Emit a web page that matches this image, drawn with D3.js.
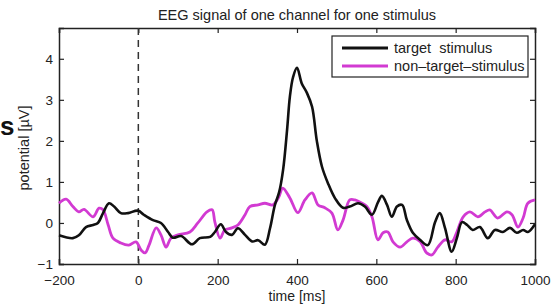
<!DOCTYPE html>
<html>
<head>
<meta charset="utf-8">
<script src="https://cdn.jsdelivr.net/npm/d3@7"></script>
<style>
  body { margin: 0; background: #fff; }
  svg { display: block; font-family: "Liberation Sans", Arial, sans-serif; }
</style>
</head>
<body>
<div id="chart"></div>
<script>
// Data
const targetTime = [-200, -165, -150, -132, -114, -102, -89, -74, -61, -44, -26, -1, 14, 37, 57, 75, 87, 108,
  135, 155, 181, 193, 208, 221, 236, 251, 269, 287, 302, 319, 332, 344, 355, 365, 375, 382, 390, 400,
  412, 425, 438, 450, 463, 478, 496, 516, 533, 554, 571, 589, 604, 614, 627, 639, 652, 665, 677, 692,
  710, 730, 748, 760, 773, 790, 803, 816, 829, 843, 861, 881, 899, 919, 937, 954, 970, 982, 1000];
const targetValue = [-0.3, -0.37, -0.3, -0.1, -0.05, 0, 0.24, 0.48, 0.4, 0.24, 0.24, 0.3, 0.2, 0.07, 0, -0.22, -0.36, -0.32,
  -0.52, -0.37, -0.34, -0.22, -0.03, -0.22, -0.29, -0.13, -0.29, -0.45, -0.42, -0.53, -0.13, 0.43, 0.75, 1.3, 2.27, 3.07, 3.55, 3.78,
  3.4, 3.17, 2.83, 2.0, 1.37, 0.97, 0.6, 0.37, 0.4, 0.48, 0.4, 0.2, 0.5, 0.66, 0.44, 0.15, 0.4, 0.44, 0.07, -0.24,
  -0.41, -0.54, 0.02, 0.24, -0.12, -0.7, -0.37, 0.02, -0.05, -0.17, -0.1, -0.37, -0.17, -0.22, -0.12, -0.24, -0.17, -0.22, -0.03];

const nonTargetTime = [-200, -182, -165, -150, -137, -114, -99, -89, -76, -64, -44, -24, -6, 7, 17, 27, 45, 57, 70, 82, 100,
  130, 150, 173, 186, 193, 206, 218, 236, 251, 269, 281, 302, 319, 339, 354, 364, 382, 402,
  420, 438, 453, 470, 488, 503, 516, 533, 546, 564, 576, 589, 604, 617, 629, 642, 660, 677, 692, 710,
  727, 740, 755, 773, 790, 803, 819, 836, 856, 874, 886, 906, 929, 942, 957, 970, 982, 1000];
const nonTargetValue = [0.48, 0.58, 0.4, 0.27, 0.33, 0.15, 0.36, 0.32, -0.05, -0.37, -0.49, -0.54, -0.46, -0.66, -0.73, -0.54, -0.12, -0.29, -0.59, -0.37, -0.29,
  -0.22, 0, 0.27, 0.32, 0.02, -0.37, -0.17, -0.12, -0.05, 0.2, 0.4, 0.44, 0.48, 0.44, 0.63, 0.85, 0.61, 0.25,
  0.56, 0.73, 0.44, 0.37, 0.24, -0.17, 0.07, 0.56, 0.56, 0.48, 0.4, 0.15, -0.41, -0.24, -0.22, -0.46, -0.59, -0.46, -0.37, -0.45,
  -0.73, -0.78, -0.59, -0.41, -0.46, -0.22, 0.15, 0.27, 0.15, 0.27, 0.32, 0.12, 0.27, 0.2, -0.1, 0.12, 0.48, 0.56];

const xTicks = [-200, 0, 200, 400, 600, 800, 1000];
const yTicks = [-1, 0, 1, 2, 3, 4];
const legendLabels = ["target  stimulus", "non\u2013target\u2013stimulus"];

const width = 555;
const height = 306;
const margin = { top: 28, right: 20, bottom: 42, left: 59 };

const svg = d3.select("#chart")
  .append("svg")
  .attr("width", width)
  .attr("height", height);

const x = d3.scaleLinear().domain([-200, 1000]).range([margin.left, width - margin.right]);
const y = d3.scaleLinear().domain([-1, 4.75]).range([height - margin.bottom, margin.top]);

const colors = ["#111111", "#d23ad2"];
const midX = (margin.left + width - margin.right) / 2;

// Title
svg.append("text")
  .attr("x", midX)
  .attr("y", 20)
  .attr("text-anchor", "middle")
  .attr("font-size", 14.5)
  .attr("fill", "#222")
  .text("EEG signal of one channel for one stimulus");

// Axes (ticks pointing inwards, mirrored on top/right)
const axisB = svg.append("g")
  .attr("transform", `translate(0,${height - margin.bottom})`)
  .call(d3.axisBottom(x).tickValues(xTicks).tickSize(-5).tickPadding(11).tickFormat(d3.format("d")));
const axisT = svg.append("g")
  .attr("transform", `translate(0,${margin.top})`)
  .call(d3.axisTop(x).tickValues(xTicks).tickSize(-5).tickFormat(""));
const axisL = svg.append("g")
  .attr("transform", `translate(${margin.left},0)`)
  .call(d3.axisLeft(y).tickValues(yTicks).tickSize(-5).tickPadding(6).tickFormat(d3.format("d")));
const axisR = svg.append("g")
  .attr("transform", `translate(${width - margin.right},0)`)
  .call(d3.axisRight(y).tickValues(yTicks).tickSize(-5).tickFormat(""));

[axisB, axisT, axisL, axisR].forEach(g => {
  g.select(".domain").attr("stroke", "#222").attr("stroke-width", 1.5);
  g.selectAll(".tick line").attr("stroke", "#222").attr("stroke-width", 1.2);
  g.selectAll(".tick text").attr("font-size", 13.5).attr("fill", "#222")
    .attr("font-family", "'Liberation Sans', Arial, sans-serif");
});

// Stimulus onset
svg.append("line")
  .attr("x1", x(0)).attr("x2", x(0))
  .attr("y1", y(4.75)).attr("y2", y(-1))
  .attr("stroke", "#333")
  .attr("stroke-width", 1.5)
  .attr("stroke-dasharray", "7,5");

// Lines
const line = d3.line()
  .x(d => x(d[0]))
  .y(d => y(d[1]))
  .curve(d3.curveCatmullRom.alpha(0.5));

const nonTarget = nonTargetTime.map((t, i) => [t, nonTargetValue[i]]);
const target = targetTime.map((t, i) => [t, targetValue[i]]);

svg.append("path")
  .datum(nonTarget)
  .attr("d", line)
  .attr("fill", "none")
  .attr("stroke", colors[1])
  .attr("stroke-width", 2.8)
  .attr("stroke-linejoin", "round");

svg.append("path")
  .datum(target)
  .attr("d", line)
  .attr("fill", "none")
  .attr("stroke", colors[0])
  .attr("stroke-width", 2.6)
  .attr("stroke-linejoin", "round");

// Legend
const legend = svg.append("g");
legend.append("rect")
  .attr("x", 332).attr("y", 36)
  .attr("width", 196).attr("height", 41)
  .attr("fill", "#fff")
  .attr("stroke", "#222")
  .attr("stroke-width", 1.2);

legendLabels.forEach((label, i) => {
  const ly = 48 + i * 18;
  legend.append("line")
    .attr("x1", 342).attr("x2", 388)
    .attr("y1", ly).attr("y2", ly)
    .attr("stroke", colors[i])
    .attr("stroke-width", 2.8);
  legend.append("text")
    .attr("x", 394).attr("y", ly + 5)
    .attr("font-size", 14.5)
    .attr("fill", "#222")
    .style("white-space", "pre")
    .text(label);
});

// Axis labels
svg.append("text")
  .attr("x", midX)
  .attr("y", 301)
  .attr("text-anchor", "middle")
  .attr("font-size", 14)
  .attr("fill", "#222")
  .text("time [ms]");

svg.append("text")
  .attr("transform", "translate(29,148) rotate(-90)")
  .attr("text-anchor", "middle")
  .attr("font-size", 14.5)
  .attr("fill", "#222")
  .text("potential [\u00b5V]");

// Stray glyph at the left edge of the reference
svg.append("text")
  .attr("x", 0)
  .attr("y", 135)
  .attr("font-size", 26)
  .attr("font-weight", "bold")
  .attr("fill", "#111")
  .text("s");
</script>
</body>
</html>
